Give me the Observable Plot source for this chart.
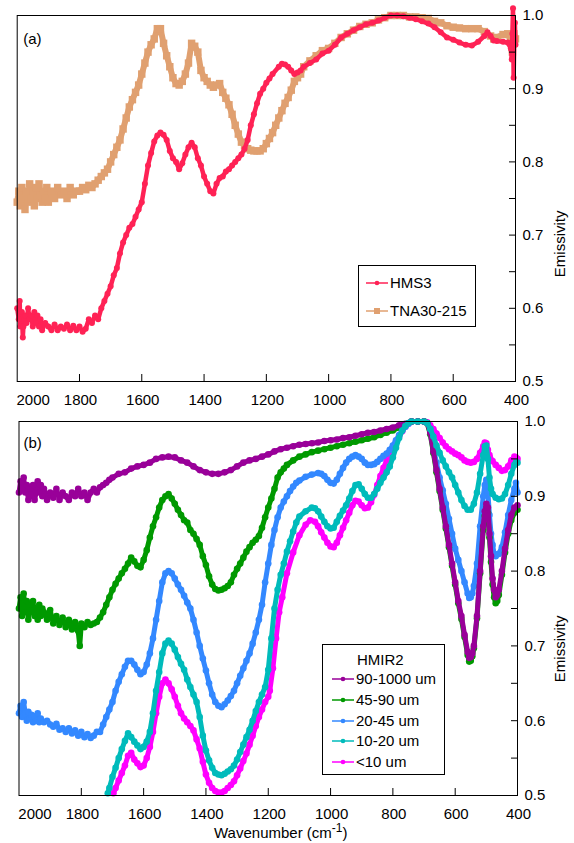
<!DOCTYPE html>
<html>
<head>
<meta charset="utf-8">
<script src="https://cdn.jsdelivr.net/npm/d3@7"></script>
<script src="https://cdn.jsdelivr.net/npm/@observablehq/plot@0.6"></script>
<style>
  html, body { margin: 0; padding: 0; background: #fff; }
  #root { position: relative; width: 574px; height: 843px; font-family: "Liberation Sans", Arial, sans-serif; font-size: 15px; color: #000; }
  .panel { position: absolute; left: 0; }
  .legend { position: absolute; border: 1px solid #000; background: #fff; box-sizing: border-box; }
  .row { position: absolute; display: flex; align-items: center; white-space: nowrap; line-height: 16px; }
  .row svg { margin-right: 2px; }
</style>
</head>
<body>
<div id="root"></div>
<script>
// ---------- DATA (wavenumber cm-1, emissivity) ----------
const xTicks = [1800, 1600, 1400, 1200, 1000, 800, 600, 400];
const xFirstTick = [2000];
const yTicks = [0.5, 0.6, 0.7, 0.8, 0.9, 1.0];
const yMinorTicks = [0.55, 0.65, 0.75, 0.85, 0.95];

const hms3 = [[2000,0.60],[1995,0.585],[1992,0.61],[1990,0.575],[1985,0.595],[1982,0.56],[1980,0.575],[1975,0.59],[1970,0.58],[1965,0.60],[1960,0.585],[1955,0.59],[1950,0.575],[1945,0.595],[1940,0.58],[1935,0.59],[1930,0.575],[1925,0.585],[1920,0.57],[1910,0.58],[1900,0.575],[1890,0.57],[1880,0.578],[1870,0.57],[1860,0.575],[1850,0.572],[1840,0.578],[1830,0.57],[1820,0.576],[1810,0.57],[1800,0.575],[1790,0.568],[1780,0.572],[1770,0.585],[1760,0.58],[1750,0.59],[1740,0.585],[1730,0.60],[1720,0.61],[1710,0.62],[1700,0.63],[1690,0.645],[1680,0.655],[1670,0.675],[1660,0.69],[1650,0.70],[1640,0.71],[1630,0.715],[1620,0.725],[1610,0.735],[1600,0.745],[1590,0.77],[1580,0.795],[1570,0.812],[1560,0.828],[1550,0.836],[1540,0.84],[1530,0.837],[1520,0.83],[1510,0.815],[1500,0.805],[1490,0.80],[1480,0.79],[1470,0.798],[1460,0.81],[1450,0.82],[1440,0.826],[1430,0.82],[1420,0.805],[1410,0.795],[1400,0.78],[1390,0.77],[1380,0.76],[1370,0.757],[1360,0.77],[1350,0.778],[1340,0.78],[1330,0.787],[1320,0.79],[1310,0.795],[1300,0.80],[1290,0.805],[1280,0.81],[1270,0.818],[1260,0.83],[1250,0.85],[1240,0.865],[1230,0.88],[1220,0.893],[1210,0.90],[1200,0.908],[1190,0.914],[1180,0.92],[1160,0.93],[1150,0.934],[1140,0.933],[1130,0.93],[1120,0.925],[1110,0.92],[1100,0.922],[1090,0.925],[1080,0.93],[1060,0.935],[1040,0.94],[1020,0.948],[1000,0.952],[980,0.96],[960,0.97],[940,0.975],[920,0.98],[900,0.984],[880,0.988],[860,0.99],[840,0.993],[820,0.997],[800,1.0],[780,1.0],[760,0.999],[740,0.997],[720,0.995],[700,0.992],[680,0.989],[660,0.984],[640,0.977],[620,0.97],[600,0.967],[580,0.963],[560,0.96],[540,0.959],[520,0.964],[500,0.972],[490,0.977],[480,0.972],[470,0.966],[460,0.965],[440,0.964],[425,0.963],[415,0.955],[412,0.94],[410,0.975],[408,1.01],[406,0.915],[404,0.96],[402,0.99],[400,0.96]];

const tna30 = [[2000,0.745],[1995,0.76],[1990,0.74],[1985,0.765],[1980,0.75],[1975,0.735],[1970,0.76],[1965,0.745],[1960,0.77],[1955,0.75],[1950,0.76],[1945,0.74],[1940,0.765],[1935,0.75],[1930,0.77],[1925,0.755],[1920,0.745],[1915,0.76],[1910,0.75],[1905,0.765],[1900,0.745],[1890,0.76],[1880,0.75],[1870,0.765],[1860,0.755],[1850,0.76],[1840,0.75],[1830,0.765],[1820,0.755],[1810,0.76],[1800,0.76],[1790,0.765],[1780,0.762],[1770,0.768],[1760,0.765],[1750,0.77],[1740,0.775],[1730,0.78],[1720,0.785],[1710,0.79],[1700,0.80],[1690,0.81],[1680,0.82],[1670,0.83],[1660,0.845],[1650,0.86],[1640,0.875],[1630,0.885],[1620,0.895],[1610,0.905],[1600,0.92],[1590,0.935],[1580,0.95],[1570,0.96],[1560,0.968],[1550,0.982],[1540,0.982],[1530,0.962],[1520,0.945],[1510,0.93],[1500,0.915],[1490,0.907],[1480,0.905],[1470,0.91],[1460,0.92],[1450,0.935],[1440,0.962],[1430,0.958],[1420,0.95],[1410,0.925],[1400,0.915],[1390,0.91],[1380,0.905],[1370,0.902],[1360,0.905],[1350,0.907],[1340,0.895],[1330,0.887],[1320,0.878],[1310,0.865],[1300,0.85],[1290,0.838],[1280,0.827],[1270,0.822],[1260,0.818],[1250,0.816],[1240,0.815],[1230,0.815],[1220,0.815],[1210,0.818],[1200,0.825],[1190,0.832],[1180,0.84],[1170,0.85],[1160,0.86],[1150,0.87],[1140,0.88],[1130,0.888],[1120,0.898],[1110,0.91],[1100,0.915],[1090,0.92],[1080,0.93],[1060,0.938],[1040,0.945],[1020,0.952],[1000,0.955],[980,0.962],[960,0.97],[940,0.975],[920,0.98],[900,0.985],[880,0.988],[860,0.99],[840,0.994],[820,0.997],[800,1.0],[780,1.0],[760,1.0],[740,0.998],[720,0.998],[700,0.997],[680,0.996],[660,0.992],[640,0.99],[620,0.986],[600,0.984],[580,0.983],[560,0.982],[540,0.982],[520,0.982],[500,0.978],[480,0.972],[470,0.968],[460,0.97],[440,0.974],[425,0.975],[415,0.965],[410,0.95],[405,0.975],[400,0.968]];

const s90_1000 = [[2000,0.905],[1995,0.92],[1990,0.91],[1985,0.925],[1980,0.905],[1975,0.915],[1970,0.895],[1965,0.91],[1960,0.90],[1955,0.915],[1950,0.895],[1945,0.905],[1940,0.92],[1935,0.905],[1930,0.915],[1925,0.90],[1920,0.91],[1910,0.895],[1900,0.905],[1890,0.898],[1880,0.91],[1870,0.895],[1860,0.905],[1850,0.90],[1840,0.895],[1830,0.905],[1820,0.90],[1810,0.91],[1800,0.90],[1790,0.905],[1780,0.895],[1770,0.905],[1760,0.91],[1750,0.905],[1740,0.912],[1730,0.915],[1720,0.918],[1710,0.922],[1700,0.925],[1680,0.93],[1660,0.932],[1640,0.937],[1620,0.94],[1600,0.942],[1580,0.945],[1560,0.95],[1540,0.952],[1520,0.953],[1500,0.952],[1480,0.948],[1460,0.945],[1440,0.94],[1420,0.935],[1400,0.932],[1380,0.93],[1360,0.93],[1340,0.932],[1320,0.935],[1300,0.94],[1280,0.945],[1260,0.948],[1240,0.95],[1220,0.953],[1200,0.956],[1180,0.96],[1160,0.963],[1140,0.965],[1120,0.967],[1100,0.969],[1080,0.97],[1060,0.971],[1040,0.972],[1020,0.974],[1000,0.975],[980,0.976],[960,0.978],[940,0.979],[920,0.981],[900,0.983],[880,0.985],[860,0.986],[840,0.988],[820,0.99],[800,0.992],[780,0.995],[760,0.997],[740,1.0],[720,1.0],[700,1.0],[690,0.998],[680,0.985],[670,0.96],[660,0.935],[650,0.91],[640,0.885],[630,0.86],[620,0.835],[610,0.81],[600,0.785],[590,0.76],[580,0.74],[570,0.715],[560,0.692],[555,0.684],[550,0.685],[545,0.69],[540,0.70],[530,0.74],[520,0.80],[510,0.86],[505,0.88],[500,0.89],[495,0.885],[490,0.85],[485,0.82],[480,0.79],[475,0.775],[470,0.765],[465,0.768],[460,0.775],[450,0.80],[440,0.83],[430,0.855],[420,0.875],[410,0.885],[400,0.888]];

const s45_90 = [[2000,0.75],[1995,0.765],[1990,0.74],[1985,0.77],[1980,0.745],[1975,0.76],[1970,0.735],[1965,0.755],[1960,0.745],[1955,0.76],[1950,0.74],[1945,0.75],[1940,0.735],[1935,0.755],[1930,0.74],[1925,0.75],[1920,0.745],[1910,0.735],[1900,0.748],[1890,0.73],[1880,0.74],[1870,0.728],[1860,0.738],[1850,0.725],[1840,0.735],[1830,0.722],[1820,0.732],[1810,0.72],[1805,0.70],[1800,0.73],[1790,0.725],[1780,0.732],[1770,0.728],[1760,0.73],[1750,0.732],[1740,0.738],[1730,0.745],[1720,0.755],[1710,0.765],[1700,0.775],[1690,0.783],[1680,0.79],[1670,0.797],[1660,0.803],[1650,0.81],[1640,0.818],[1630,0.813],[1620,0.807],[1610,0.805],[1600,0.815],[1590,0.828],[1580,0.845],[1570,0.86],[1560,0.872],[1550,0.885],[1540,0.895],[1530,0.90],[1520,0.903],[1510,0.897],[1500,0.89],[1490,0.882],[1480,0.875],[1470,0.868],[1460,0.865],[1450,0.855],[1440,0.85],[1430,0.843],[1420,0.835],[1410,0.82],[1400,0.808],[1390,0.793],[1380,0.782],[1370,0.776],[1360,0.774],[1350,0.775],[1340,0.777],[1330,0.78],[1320,0.785],[1310,0.795],[1300,0.803],[1290,0.81],[1280,0.818],[1270,0.826],[1260,0.832],[1250,0.838],[1240,0.842],[1230,0.847],[1220,0.858],[1210,0.872],[1200,0.885],[1190,0.897],[1180,0.91],[1170,0.925],[1160,0.932],[1150,0.937],[1140,0.942],[1120,0.948],[1100,0.953],[1080,0.956],[1060,0.959],[1040,0.961],[1020,0.963],[1000,0.965],[980,0.967],[960,0.969],[940,0.971],[920,0.973],[900,0.975],[880,0.977],[860,0.979],[840,0.982],[820,0.985],[800,0.988],[780,0.992],[760,0.996],[740,1.0],[720,1.0],[700,1.0],[690,0.998],[680,0.983],[670,0.958],[660,0.932],[650,0.907],[640,0.882],[630,0.857],[620,0.832],[610,0.807],[600,0.782],[590,0.757],[580,0.736],[570,0.712],[560,0.688],[555,0.679],[550,0.68],[545,0.686],[540,0.697],[530,0.737],[520,0.797],[510,0.855],[505,0.874],[500,0.884],[495,0.878],[490,0.845],[485,0.812],[480,0.782],[475,0.765],[470,0.757],[465,0.76],[460,0.768],[450,0.795],[440,0.825],[430,0.85],[420,0.868],[410,0.878],[400,0.882]];

const s20_45 = [[2000,0.61],[1995,0.62],[1990,0.605],[1985,0.625],[1980,0.61],[1975,0.60],[1970,0.612],[1965,0.603],[1960,0.608],[1955,0.598],[1950,0.606],[1945,0.60],[1940,0.61],[1935,0.598],[1930,0.603],[1920,0.598],[1910,0.60],[1900,0.595],[1890,0.592],[1880,0.596],[1870,0.588],[1860,0.59],[1850,0.585],[1840,0.59],[1830,0.583],[1820,0.587],[1810,0.58],[1800,0.585],[1790,0.578],[1780,0.582],[1770,0.577],[1760,0.58],[1750,0.585],[1740,0.585],[1730,0.595],[1720,0.605],[1710,0.615],[1700,0.625],[1690,0.64],[1680,0.652],[1670,0.662],[1660,0.672],[1650,0.68],[1640,0.68],[1630,0.675],[1620,0.668],[1610,0.662],[1600,0.665],[1590,0.675],[1580,0.69],[1570,0.71],[1560,0.735],[1550,0.76],[1540,0.785],[1530,0.797],[1520,0.80],[1510,0.797],[1500,0.79],[1490,0.782],[1480,0.775],[1470,0.767],[1460,0.758],[1450,0.75],[1440,0.735],[1430,0.718],[1420,0.70],[1410,0.683],[1400,0.667],[1390,0.65],[1380,0.635],[1370,0.625],[1360,0.62],[1350,0.618],[1340,0.622],[1330,0.627],[1320,0.633],[1310,0.64],[1300,0.65],[1290,0.66],[1280,0.67],[1270,0.68],[1260,0.69],[1250,0.703],[1240,0.718],[1230,0.735],[1220,0.755],[1210,0.785],[1200,0.81],[1190,0.835],[1180,0.855],[1170,0.872],[1160,0.885],[1150,0.893],[1140,0.90],[1130,0.907],[1120,0.913],[1110,0.918],[1100,0.921],[1080,0.926],[1060,0.929],[1040,0.931],[1030,0.93],[1020,0.927],[1010,0.922],[1000,0.918],[990,0.917],[980,0.922],[970,0.93],[960,0.938],[950,0.945],[940,0.95],[930,0.953],[920,0.955],[910,0.953],[900,0.95],[890,0.945],[880,0.942],[870,0.942],[860,0.943],[850,0.946],[840,0.95],[830,0.954],[820,0.957],[810,0.962],[800,0.968],[790,0.975],[780,0.982],[770,0.988],[760,0.993],[750,0.997],[740,1.0],[720,1.0],[700,1.0],[690,0.998],[680,0.99],[670,0.965],[660,0.945],[650,0.925],[640,0.908],[630,0.89],[620,0.87],[610,0.85],[600,0.83],[590,0.815],[580,0.80],[570,0.785],[560,0.77],[555,0.764],[550,0.765],[545,0.77],[540,0.78],[530,0.81],[520,0.86],[510,0.90],[505,0.915],[500,0.922],[495,0.905],[490,0.875],[485,0.85],[480,0.835],[475,0.823],[470,0.82],[460,0.823],[450,0.832],[440,0.852],[430,0.875],[420,0.895],[410,0.91],[405,0.918],[400,0.905]];

const s10_20 = [[1715,0.503],[1710,0.51],[1700,0.525],[1690,0.537],[1680,0.55],[1670,0.562],[1660,0.573],[1650,0.583],[1640,0.578],[1630,0.572],[1620,0.567],[1610,0.562],[1600,0.565],[1590,0.572],[1580,0.585],[1570,0.61],[1560,0.64],[1550,0.665],[1540,0.69],[1530,0.703],[1520,0.707],[1510,0.703],[1500,0.695],[1490,0.685],[1480,0.676],[1470,0.668],[1460,0.655],[1450,0.645],[1440,0.635],[1430,0.625],[1420,0.605],[1410,0.58],[1400,0.56],[1390,0.547],[1380,0.537],[1370,0.53],[1360,0.528],[1350,0.527],[1340,0.529],[1330,0.532],[1320,0.535],[1310,0.54],[1300,0.548],[1290,0.558],[1280,0.568],[1270,0.578],[1260,0.588],[1250,0.60],[1240,0.613],[1230,0.625],[1220,0.635],[1210,0.645],[1200,0.668],[1190,0.71],[1180,0.75],[1170,0.775],[1160,0.795],[1150,0.81],[1140,0.826],[1130,0.84],[1120,0.853],[1110,0.865],[1100,0.873],[1080,0.88],[1060,0.885],[1050,0.884],[1040,0.88],[1030,0.873],[1020,0.866],[1010,0.86],[1000,0.857],[990,0.858],[980,0.866],[970,0.874],[960,0.881],[950,0.888],[940,0.897],[930,0.907],[920,0.915],[910,0.916],[900,0.91],[890,0.903],[880,0.898],[870,0.898],[860,0.903],[850,0.91],[840,0.918],[830,0.925],[820,0.932],[810,0.94],[800,0.952],[790,0.965],[780,0.978],[770,0.988],[760,0.994],[750,0.998],[740,1.0],[720,1.0],[700,1.0],[690,0.998],[680,0.99],[670,0.98],[660,0.968],[650,0.958],[640,0.948],[630,0.94],[620,0.932],[610,0.925],[600,0.915],[590,0.905],[580,0.895],[570,0.887],[560,0.882],[550,0.882],[540,0.89],[530,0.905],[520,0.93],[510,0.955],[505,0.967],[500,0.968],[495,0.95],[490,0.925],[485,0.91],[480,0.903],[470,0.898],[460,0.896],[450,0.897],[440,0.903],[430,0.915],[420,0.93],[410,0.942],[405,0.945],[400,0.945]];

const s_lt10 = [[1697,0.503],[1690,0.51],[1680,0.52],[1670,0.53],[1660,0.54],[1650,0.553],[1640,0.557],[1630,0.548],[1620,0.543],[1610,0.538],[1600,0.54],[1590,0.55],[1580,0.565],[1570,0.585],[1560,0.61],[1550,0.632],[1540,0.65],[1530,0.655],[1520,0.65],[1510,0.642],[1500,0.632],[1490,0.62],[1480,0.61],[1470,0.603],[1460,0.598],[1450,0.593],[1440,0.587],[1430,0.575],[1420,0.563],[1410,0.545],[1400,0.528],[1390,0.517],[1380,0.51],[1370,0.506],[1360,0.504],[1350,0.504],[1340,0.506],[1330,0.51],[1320,0.514],[1310,0.519],[1300,0.527],[1290,0.536],[1280,0.546],[1270,0.556],[1260,0.568],[1250,0.58],[1240,0.593],[1230,0.605],[1220,0.615],[1210,0.625],[1200,0.632],[1195,0.64],[1185,0.67],[1175,0.71],[1165,0.745],[1155,0.765],[1140,0.797],[1120,0.825],[1100,0.848],[1080,0.862],[1065,0.868],[1050,0.866],[1040,0.86],[1030,0.852],[1020,0.845],[1010,0.838],[1000,0.833],[990,0.832],[980,0.838],[970,0.848],[960,0.858],[950,0.868],[940,0.878],[930,0.888],[920,0.894],[910,0.893],[900,0.888],[890,0.884],[880,0.885],[870,0.892],[860,0.902],[850,0.915],[840,0.927],[830,0.938],[820,0.948],[810,0.957],[800,0.965],[790,0.972],[780,0.98],[770,0.987],[760,0.993],[750,0.997],[740,1.0],[720,1.0],[700,1.0],[690,0.999],[680,0.995],[670,0.99],[660,0.984],[650,0.978],[640,0.972],[630,0.967],[620,0.963],[610,0.96],[600,0.957],[590,0.955],[580,0.952],[570,0.948],[560,0.946],[550,0.945],[540,0.946],[530,0.95],[520,0.958],[510,0.967],[505,0.972],[500,0.971],[495,0.962],[490,0.955],[480,0.947],[470,0.942],[460,0.938],[450,0.934],[440,0.935],[430,0.94],[420,0.948],[410,0.953],[405,0.952],[400,0.95]];

const topSeries = [
  {name: "TNA30-215", data: tna30, color: "#e0a070", symbol: "square", r: 4.2, sw: 6},
  {name: "HMS3", data: hms3, color: "#ff2255", symbol: "circle", r: 3, sw: 4.5}
];
const bottomSeries = [
  {name: "<10 um", data: s_lt10, color: "#ff00ff"},
  {name: "20-45 um", data: s20_45, color: "#3388ff"},
  {name: "45-90 um", data: s45_90, color: "#009900"},
  {name: "90-1000 um", data: s90_1000, color: "#990099"},
  {name: "10-20 um", data: s10_20, color: "#00bbbb"}
];
const topLegend = ["HMS3", "TNA30-215"];
const bottomLegendTitle = "HMIR2";
const bottomLegend = ["90-1000 um", "45-90 um", "20-45 um", "10-20 um", "<10 um"];

// ---------- BUILD ----------
const root = document.getElementById("root");
const font = "'Liberation Sans', Arial, sans-serif";

function panel({series, mL, mR, mT, mB, H, label, labelDx, labelDy, yLabDx, yLabDy, dotR = 3.3, lineW = 5}) {
  const marks = [];
  for (const s of series) {
    marks.push(Plot.line(s.data, {x: d => d[0], y: d => d[1], stroke: s.color, strokeWidth: s.sw ?? lineW, strokeLinejoin: "round"}));
    marks.push(Plot.dot(s.data, {x: d => d[0], y: d => d[1], fill: s.color, stroke: "none", r: s.r ?? dotR, symbol: s.symbol ?? "circle"}));
  }
  marks.push(
    Plot.frame({stroke: "#000", strokeWidth: 1}),
    Plot.axisX({ticks: xTicks, tickSize: 7, dy: -7, tickFormat: () => ""}),
    Plot.axisX({ticks: xTicks, tickSize: 0, tickPadding: 13, dx: 1, tickFormat: d => String(d)}),
    Plot.axisX({ticks: xFirstTick, tickSize: 0, tickPadding: 13, dx: 16, tickFormat: d => String(d)}),
    Plot.axisY({anchor: "right", ticks: yTicks, tickSize: 7, dx: -7, tickFormat: () => ""}),
    Plot.axisY({anchor: "right", ticks: yMinorTicks, tickSize: 7, dx: -7, tickFormat: () => ""}),
    Plot.axisY({anchor: "right", ticks: yTicks, tickSize: 0, tickPadding: 7, tickFormat: d => d.toFixed(1)}),
    Plot.text([label], {frameAnchor: "top-left", textAnchor: "start", dx: labelDx, dy: labelDy, fontSize: 15}),
    Plot.text(["Emissivity"], {frameAnchor: "right", rotate: -90, dx: yLabDx, dy: yLabDy, fontSize: 15})
  );
  return Plot.plot({
    width: 574, height: H,
    marginLeft: mL, marginRight: mR, marginTop: mT, marginBottom: mB,
    x: {domain: [2000, 400], label: null},
    y: {domain: [0.5, 1.0], label: null},
    style: {fontFamily: font, fontSize: "15px", color: "#000", background: "transparent", overflow: "visible"},
    marks
  });
}

const topPlot = panel({series: topSeries, mL: 16.7, mR: 59, mT: 15, mB: 29, H: 410, label: "(a)", labelDx: 6, labelDy: 18, yLabDx: 45, yLabDy: 12});
topPlot.classList.add("panel"); topPlot.style.top = "0px";
root.appendChild(topPlot);

const botPlot = panel({series: bottomSeries, mL: 18.5, mR: 57, mT: 11, mB: 48, H: 433, label: "(b)", labelDx: 4.5, labelDy: 16, yLabDx: 42.5, yLabDy: 7});
botPlot.classList.add("panel"); botPlot.style.top = "410px";
root.appendChild(botPlot);

// x-axis title with superscript
const xt = document.createElement("div");
xt.style.cssText = "position:absolute;left:214px;top:825px;font-size:15px;line-height:16px;white-space:nowrap;";
xt.innerHTML = 'Wavenumber (cm<span style="font-size:12px;position:relative;top:-6px">-1</span>)';
root.appendChild(xt);

function swatch(color, symbol) {
  const m = symbol === "square"
    ? `<rect x="8" y="2" width="6" height="6" fill="${color}"/>`
    : `<circle cx="11" cy="5" r="2.3" fill="${color}"/>`;
  return `<svg width="22" height="10"><line x1="0" y1="5" x2="22" y2="5" stroke="${color}" stroke-width="1.5"/>${m}</svg>`;
}

function legend({left, top, width, height, title, titleLeft, titleTop, items, rowLeft, rowTop, rowStep}) {
  const box = document.createElement("div");
  box.className = "legend";
  box.style.cssText = `left:${left}px;top:${top}px;width:${width}px;height:${height}px;`;
  let html = "";
  if (title) html += `<div class="row" style="left:${titleLeft}px;top:${titleTop}px">${title}</div>`;
  items.forEach((it, i) => {
    html += `<div class="row" style="left:${rowLeft}px;top:${rowTop + i * rowStep}px">${swatch(it.color, it.symbol)}<span>${it.name}</span></div>`;
  });
  box.innerHTML = html;
  root.appendChild(box);
}

const topItems = topLegend.map(n => { const s = topSeries.find(t => t.name === n); return {name: n, color: s.color, symbol: s.symbol}; });
legend({left: 358, top: 265, width: 118, height: 62, items: topItems, rowLeft: 7, rowTop: 9, rowStep: 28});

const botItems = bottomLegend.map(n => { const s = bottomSeries.find(t => t.name === n); return {name: n, color: s.color, symbol: "circle"}; });
legend({left: 322, top: 644, width: 123, height: 131, title: bottomLegendTitle, titleLeft: 34, titleTop: 7, items: botItems, rowLeft: 9, rowTop: 26, rowStep: 20.8});
</script>
</body>
</html>
